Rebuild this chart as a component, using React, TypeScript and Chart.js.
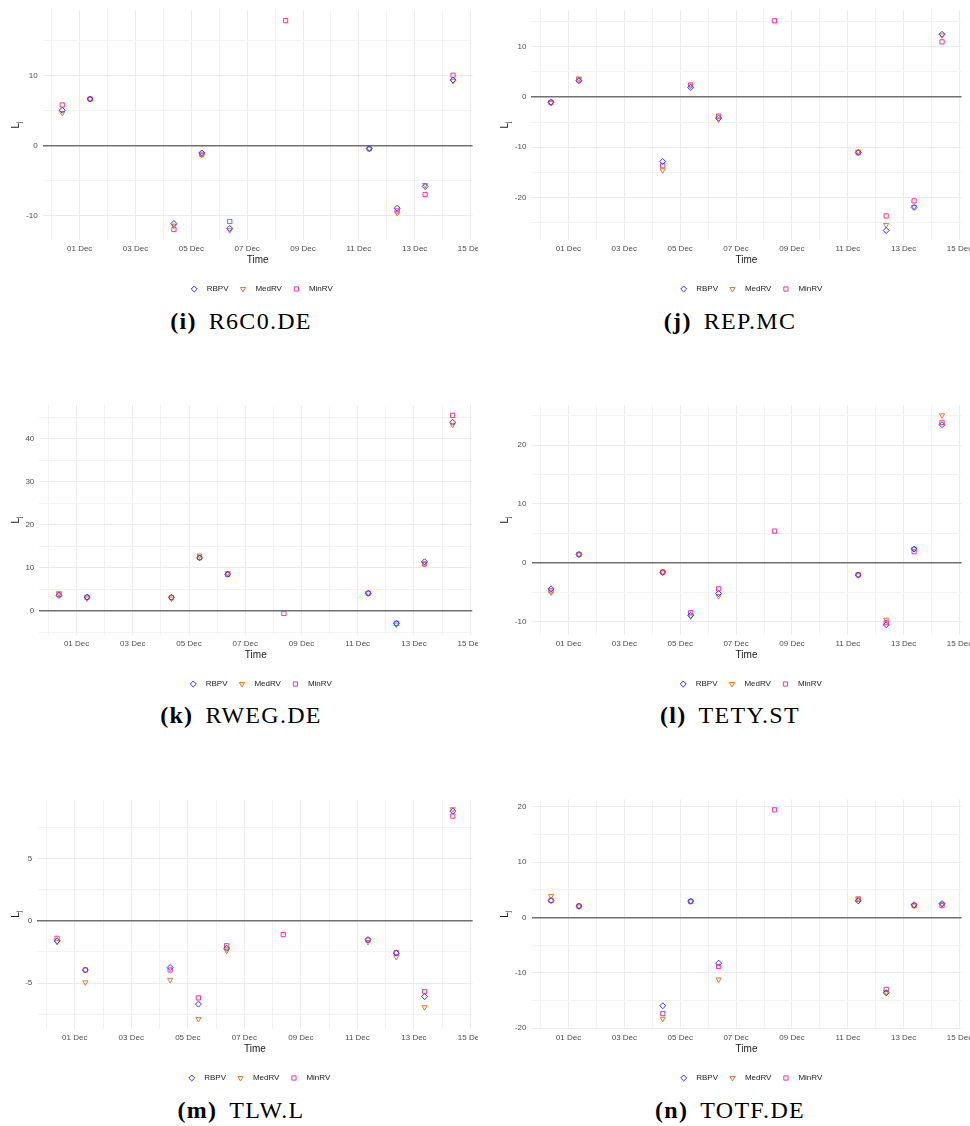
import React, { useEffect, useRef } from 'react';
import { Chart, registerables } from 'chart.js';

Chart.register(...registerables);

const FONT = "'Liberation Sans', Arial, Helvetica, sans-serif";
Chart.defaults.font.family = FONT;

// ---------- data ----------
const seriesNames = ['RBPV', 'MedRV', 'MinRV'];
const dayLabels = ['30 Nov', '01 Dec', '02 Dec', '03 Dec', '04 Dec', '05 Dec', '06 Dec', '07 Dec',
  '08 Dec', '09 Dec', '10 Dec', '11 Dec', '12 Dec', '13 Dec', '14 Dec', '15 Dec'];
const gridDays = [0, 1, 2, 3, 4, 5, 6, 7, 8, 9, 10, 11, 12, 13, 14, 15];
const obsDays = [0, 1, 4, 5, 6, 8, 11, 12, 13, 14];
const obsHour = 9;

const r6c0Rbpv = [5.1, 6.7, -11.1, -1.0, -11.8, null, -0.4, -8.9, -5.8, 9.4];
const r6c0Medrv = [4.7, 6.7, -11.4, -1.3, -12.05, null, -0.4, -9.6, -5.6, 9.3];
const r6c0Minrv = [5.85, 6.7, -11.95, -1.2, -10.8, 17.9, -0.4, -9.3, -6.95, 10.1];
const r6c0Ticks = [-10, -5, 0, 5, 10, 15];

const repRbpv = [-1.05, 3.25, -12.85, 1.9, -4.2, null, -11.05, -26.6, -22.0, 12.5];
const repMedrv = [-1.2, 3.7, -14.6, 2.25, -4.5, null, -10.9, -25.5, -21.9, 12.3];
const repMinrv = [-1.05, 3.4, -13.7, 2.4, -3.8, 15.2, -11.1, -23.7, -20.7, 11.0];
const repTicks = [-25, -20, -15, -10, -5, 0, 5, 10, 15];

const rwegRbpv = [3.6, 3.2, 3.15, 12.3, 8.5, null, 4.1, -2.9, 11.4, 43.8];
const rwegMedrv = [4.1, 2.9, 2.85, 12.85, 8.75, null, 4.1, -3.2, 10.9, 43.2];
const rwegMinrv = [3.8, 3.15, 3.1, 12.4, 8.5, -0.6, 4.1, -2.9, 10.9, 45.4];
const rwegTicks = [-5, 0, 5, 10, 15, 20, 25, 30, 35, 40, 45];

const tetyRbpv = [-4.45, 1.4, -1.65, -8.95, -5.25, null, -2.1, -10.55, 2.3, 23.45];
const tetyMedrv = [-5.05, 1.4, -1.65, -9.15, -5.7, null, -2.15, -9.7, 2.35, 25.05];
const tetyMinrv = [-4.8, 1.4, -1.6, -8.5, -4.45, 5.35, -2.05, -10.2, 1.85, 23.85];
const tetyTicks = [-10, -5, 0, 5, 10, 15, 20, 25];

const tlwRbpv = [-1.6, -3.95, -3.75, -6.7, -2.2, null, -1.5, -2.6, -6.1, 8.85];
const tlwMedrv = [-1.7, -4.95, -4.75, -7.9, -2.4, null, -1.7, -2.9, -6.95, 9.0];
const tlwMinrv = [-1.4, -3.95, -3.95, -6.2, -2.0, -1.1, -1.55, -2.55, -5.7, 8.45];
const tlwTicks = [-7.5, -5, -2.5, 0, 2.5, 5, 7.5];

const totfRbpv = [3.05, 2.05, -15.95, 2.95, -8.25, null, 3.0, -13.6, 2.3, 2.5];
const totfMedrv = [3.9, 2.0, -18.3, 2.9, -11.2, null, 3.45, -13.5, 2.15, 2.4];
const totfMinrv = [3.1, 2.05, -17.35, 2.9, -8.85, 19.45, 3.3, -13.0, 2.15, 2.15];
const totfTicks = [-20, -15, -10, -5, 0, 5, 10, 15, 20];

// ---------- panels ----------
type Panel = {
  tag: string; name: string;
  series: (number | null)[][];
  ticks: number[]; major: number; yMin: number; yMax: number;
  cx: number; cy: number; visW: number;
  left: number; right: number; top: number; bottom: number;
  legendX: number; legendY: number;
  capX: number; capY: number;
};

const X_MIN = -0.325;
const X_MAX = 15.075;

const panels: Panel[] = [
  { tag: '(i)', name: 'R6C0.DE', series: [r6c0Rbpv, r6c0Medrv, r6c0Minrv], ticks: r6c0Ticks, major: 10,
    yMin: -13.45, yMax: 19.42, cx: 0, cy: 0, visW: 478,
    left: 42.7, right: 472.6, top: 10, bottom: 240, legendX: 261.7, legendY: 289, capX: 241, capY: 329.3 },
  { tag: '(j)', name: 'REP.MC', series: [repRbpv, repMedrv, repMinrv], ticks: repTicks, major: 10,
    yMin: -28.5, yMax: 17.35, cx: 489, cy: 0, visW: 481,
    left: 42.4, right: 472.6, top: 10, bottom: 240, legendX: 261.8, legendY: 289, capX: 730, capY: 329.3 },
  { tag: '(k)', name: 'RWEG.DE', series: [rwegRbpv, rwegMedrv, rwegMinrv], ticks: rwegTicks, major: 10,
    yMin: -5.6, yMax: 47.8, cx: 0, cy: 395, visW: 478,
    left: 39.3, right: 472.3, top: 10, bottom: 240, legendX: 260.3, legendY: 289, capX: 241, capY: 723 },
  { tag: '(l)', name: 'TETY.ST', series: [tetyRbpv, tetyMedrv, tetyMinrv], ticks: tetyTicks, major: 10,
    yMin: -12.3, yMax: 26.8, cx: 489, cy: 395, visW: 481,
    left: 42.5, right: 472.6, top: 10, bottom: 240, legendX: 261.7, legendY: 289, capX: 730, capY: 723 },
  { tag: '(m)', name: 'TLW.L', series: [tlwRbpv, tlwMedrv, tlwMinrv], ticks: tlwTicks, major: 5,
    yMin: -8.73, yMax: 9.8, cx: 0, cy: 789, visW: 478,
    left: 37.3, right: 472.6, top: 10.3, bottom: 240.3, legendX: 259, legendY: 289, capX: 241, capY: 1118 },
  { tag: '(n)', name: 'TOTF.DE', series: [totfRbpv, totfMedrv, totfMinrv], ticks: totfTicks, major: 10,
    yMin: -20.2, yMax: 21.35, cx: 489, cy: 789, visW: 481,
    left: 42.5, right: 472.6, top: 10.3, bottom: 240.3, legendX: 261.8, legendY: 289, capX: 730, capY: 1118 },
];

const seriesStyles = [
  { color: '#3535ff', pointStyle: 'rectRot', rotation: 0 },
  { color: '#e07a30', pointStyle: 'triangle', rotation: 180 },
  { color: '#ff3399', pointStyle: 'rect', rotation: 0 },
];

const LEGEND_FONT = 8;
const LEGEND_PAD = 10.5;
const LEGEND_H = LEGEND_FONT + LEGEND_PAD + 10;

const yTitlePlugin = {
  id: 'yTitleSub',
  afterDraw(chart: any, _args: any, opts: any) {
    const { ctx, chartArea } = chart;
    const y = (chartArea.top + chartArea.bottom) / 2;
    ctx.save();
    ctx.translate(opts.x, y);
    ctx.rotate(-Math.PI / 2);
    ctx.fillStyle = '#1a1a1a';
    ctx.textBaseline = 'middle';
    ctx.textAlign = 'left';
    ctx.font = `10px ${FONT}`;
    const wm = ctx.measureText('L').width;
    ctx.font = `7px ${FONT}`;
    const ws = ctx.measureText('j').width;
    const start = -(wm + ws) / 2;
    ctx.font = `10px ${FONT}`;
    ctx.fillText('L', start, 0);
    ctx.font = `7px ${FONT}`;
    ctx.fillText('j', start + wm, 3);
    ctx.restore();
  },
};

function PanelChart({ p }: { p: Panel }) {
  const ref = useRef<HTMLCanvasElement>(null);
  const Wc = Math.round(2 * p.legendX);
  const Hc = Math.round(p.legendY + 14);

  useEffect(() => {
    const canvas = ref.current;
    if (!canvas) return;
    const xAxisH = Hc - LEGEND_H - p.bottom;
    const rightW = Wc - p.right;

    const datasets = seriesNames.map((name, si) => {
      const st = seriesStyles[si];
      const values = p.series[si];
      const data = obsDays
        .map((d, i) => ({ x: d + obsHour / 24, y: values[i] }))
        .filter((pt) => pt.y !== null);
      return {
        label: name,
        data,
        showLine: false,
        pointStyle: st.pointStyle,
        pointRotation: st.rotation,
        pointRadius: 3,
        pointHoverRadius: 3,
        pointBorderWidth: 1,
        borderWidth: 1,
        pointBorderColor: st.color,
        borderColor: st.color,
        pointBackgroundColor: 'rgba(0,0,0,0)',
        backgroundColor: 'rgba(0,0,0,0)',
      };
    });

    const chart = new Chart(canvas, {
      type: 'scatter',
      data: { datasets } as any,
      plugins: [yTitlePlugin],
      options: {
        responsive: false,
        animation: false,
        devicePixelRatio: 1,
        layout: { padding: { left: 0, right: 0, top: p.top, bottom: 0 } },
        plugins: {
          tooltip: { enabled: false },
          yTitleSub: { x: 16 },
          legend: {
            display: true,
            position: 'bottom',
            labels: {
              usePointStyle: true,
              boxWidth: 8,
              boxHeight: 4.24,
              padding: LEGEND_PAD,
              color: '#222',
              font: { size: LEGEND_FONT, family: FONT },
              generateLabels: (c: any) =>
                (Chart.defaults.plugins.legend.labels as any).generateLabels(c).map((it: any) => ({ ...it, text: '  ' + it.text })),
            },
          },
        } as any,
        scales: {
          x: {
            type: 'linear',
            position: 'bottom',
            min: X_MIN,
            max: X_MAX,
            afterBuildTicks: (s: any) => { s.ticks = gridDays.map((v) => ({ value: v })); },
            afterFit: (s: any) => { s.height = xAxisH; s.paddingLeft = 0; s.paddingRight = 0; },
            ticks: {
              autoSkip: false, maxRotation: 0, minRotation: 0, padding: 4,
              color: '#4d4d4d', font: { size: 8 },
              callback: (v: any) => (Number(v) % 2 === 1 ? dayLabels[Number(v)] : ''),
            },
            grid: {
              drawTicks: false,
              color: (c: any) => (c.tick && c.tick.value % 2 === 1 ? '#ebebeb' : '#f2f2f2'),
              lineWidth: 1,
            },
            border: { display: false },
            title: {
              display: true, text: 'Time', color: '#1a1a1a',
              font: { size: 10 }, padding: { top: 0, bottom: 8.5 },
            },
          },
          y: {
            type: 'linear',
            position: 'left',
            min: p.yMin,
            max: p.yMax,
            afterBuildTicks: (s: any) => { s.ticks = p.ticks.map((v) => ({ value: v })); },
            afterFit: (s: any) => { s.width = p.left; s.paddingTop = 0; s.paddingBottom = 0; },
            ticks: {
              padding: 5, color: '#4d4d4d', font: { size: 8 },
              callback: (v: any) => (Number(v) % p.major === 0 ? String(v) : ''),
            },
            grid: {
              drawTicks: false,
              color: (c: any) => {
                const v = c.tick ? c.tick.value : NaN;
                if (v === 0) return '#707070';
                return v % p.major === 0 ? '#ebebeb' : '#f2f2f2';
              },
              lineWidth: (c: any) => (c.tick && c.tick.value === 0 ? 1.4 : 1),
            },
            border: { display: false },
          },
          yRight: {
            type: 'linear',
            axis: 'y',
            position: 'right',
            display: true,
            grid: { display: false, drawTicks: false },
            ticks: { display: false },
            border: { display: false },
            afterFit: (s: any) => { s.width = rightW; s.paddingTop = 0; s.paddingBottom = 0; },
          },
        } as any,
      },
    });
    return () => chart.destroy();
  }, []);

  return (
    <div style={{ position: 'absolute', left: p.cx, top: p.cy, width: p.visW, height: Hc, overflow: 'hidden' }}>
      <canvas ref={ref} width={Wc} height={Hc} style={{ width: Wc, height: Hc, display: 'block' }} />
    </div>
  );
}

function Caption({ p }: { p: Panel }) {
  return (
    <div
      style={{
        position: 'absolute', left: p.capX - 200, top: p.capY - 20.1, width: 400,
        textAlign: 'center', whiteSpace: 'nowrap', color: '#000',
        font: "24px/24px 'Liberation Serif', 'Times New Roman', serif", letterSpacing: '1.3px',
      }}
    >
      <b>{p.tag}</b>
      <span style={{ marginLeft: 12 }}>{p.name}</span>
    </div>
  );
}

export default function App() {
  return (
    <div style={{ position: 'absolute', left: 0, top: 0, width: 970, height: 1126, background: '#fff', overflow: 'hidden' }}>
      {panels.map((p) => (
        <PanelChart key={p.name} p={p} />
      ))}
      {panels.map((p) => (
        <Caption key={'c' + p.name} p={p} />
      ))}
    </div>
  );
}
